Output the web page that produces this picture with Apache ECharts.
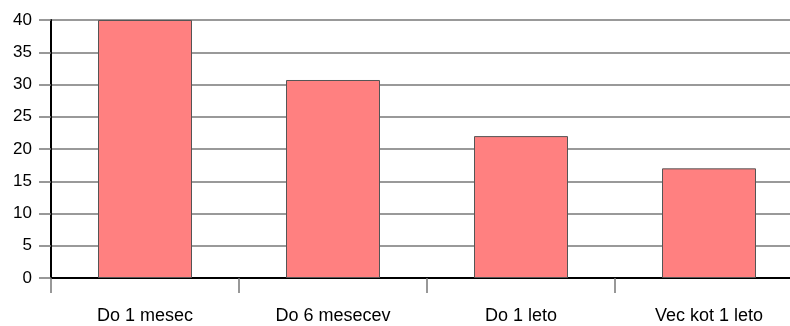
<!DOCTYPE html>
<html>
<head>
<meta charset="utf-8">
<script src="https://cdn.jsdelivr.net/npm/echarts@6/dist/echarts.min.js"></script>
<style>
  html, body { margin: 0; padding: 0; background: #fff; overflow: hidden; }
  /* plot sega cez desni rob slike, zato je platno sirse od okna */
  #main { width: 803px; height: 326px; }
</style>
</head>
<body>
<div id="main"></div>
<script>
// podatki
const categories = ['Do 1 mesec', 'Do 6 mesecev', 'Do 1 leto', 'Vec kot 1 leto']
const values = [40, 30.7, 22, 17]

const chart = echarts.init(document.getElementById('main'), null, { renderer: 'canvas' })
const option = {
  animation: false,
  textStyle: { fontFamily: 'Liberation Sans, Arial, sans-serif' },
  grid: { left: 51, right: 0, top: 20, bottom: 48, containLabel: false },
  xAxis: {
    type: 'category',
    data: categories,
    axisLine: { lineStyle: { color: '#000', width: 2 } },
    axisTick: { show: true, length: 15, lineStyle: { color: '#777', width: 1.5 } },
    axisLabel: { color: '#000', fontSize: 18, margin: 29 }
  },
  yAxis: {
    type: 'value',
    min: 0,
    max: 40,
    interval: 5,
    axisLine: { show: true, lineStyle: { color: '#000', width: 2 } },
    axisTick: { show: true, length: 12, lineStyle: { color: '#777', width: 1.5 } },
    axisLabel: { color: '#000', fontSize: 17, margin: 19 },
    splitLine: { show: true, lineStyle: { color: '#777', width: 1.5 } }
  },
  series: [
    {
      type: 'bar',
      data: values,
      barWidth: '50%',
      itemStyle: {
        color: '#FF8080',
        borderColor: '#555',
        borderWidth: 1
      }
    }
  ]
}
chart.setOption(option)
</script>
</body>
</html>
